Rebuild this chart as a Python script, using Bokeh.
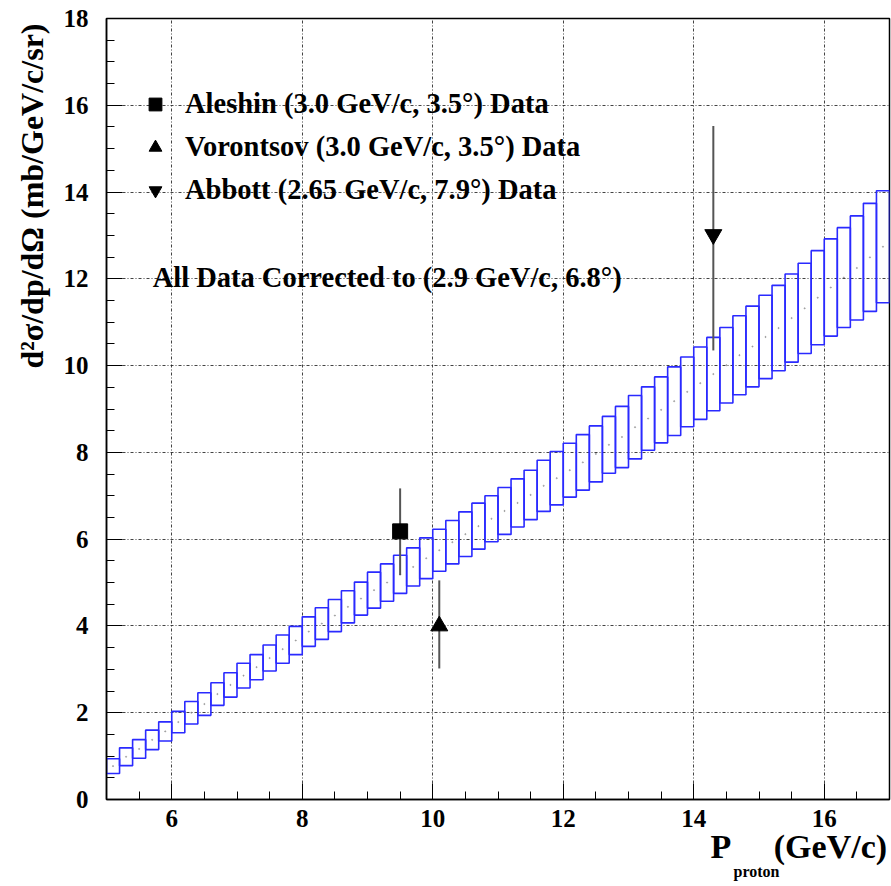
import numpy as np
from bokeh.plotting import figure
from bokeh.models import (FixedTicker, Label, Legend, LegendItem, ColumnDataSource, Title)
from bokeh.embed import file_html
from bokeh.resources import INLINE

# ---------------- data ----------------
bin_left = [5.0, 5.2, 5.4, 5.6, 5.8, 6.0, 6.2, 6.4, 6.6, 6.8,
            7.0, 7.2, 7.4, 7.6, 7.8, 8.0, 8.2, 8.4, 8.6, 8.8,
            9.0, 9.2, 9.4, 9.6, 9.8, 10.0, 10.2, 10.4, 10.6, 10.8,
            11.0, 11.2, 11.4, 11.6, 11.8, 12.0, 12.2, 12.4, 12.6, 12.8,
            13.0, 13.2, 13.4, 13.6, 13.8, 14.0, 14.2, 14.4, 14.6, 14.8,
            15.0, 15.2, 15.4, 15.6, 15.8, 16.0, 16.2, 16.4, 16.6, 16.8]
bin_width = 0.2
band_low = [0.60, 0.78, 0.95, 1.15, 1.35, 1.54, 1.74, 1.94, 2.17, 2.36,
            2.57, 2.76, 2.96, 3.14, 3.34, 3.53, 3.69, 3.87, 4.07, 4.25,
            4.41, 4.57, 4.75, 4.92, 5.09, 5.26, 5.43, 5.60, 5.77, 5.94,
            6.11, 6.28, 6.45, 6.64, 6.79, 6.97, 7.13, 7.32, 7.52, 7.65,
            7.85, 8.05, 8.22, 8.39, 8.59, 8.76, 8.96, 9.14, 9.33, 9.51,
            9.70, 9.88, 10.08, 10.28, 10.48, 10.68, 10.88, 11.05, 11.25, 11.45]
band_high = [0.94, 1.19, 1.38, 1.60, 1.79, 2.03, 2.26, 2.46, 2.69, 2.92,
             3.14, 3.34, 3.56, 3.79, 3.99, 4.21, 4.42, 4.61, 4.81, 5.01,
             5.24, 5.43, 5.63, 5.80, 6.03, 6.23, 6.43, 6.63, 6.83, 7.00,
             7.19, 7.39, 7.59, 7.82, 8.02, 8.21, 8.41, 8.61, 8.83, 9.06,
             9.31, 9.51, 9.74, 9.97, 10.20, 10.43, 10.65, 10.88, 11.15, 11.37,
             11.62, 11.85, 12.11, 12.36, 12.65, 12.92, 13.18, 13.45, 13.74, 14.03]

aleshin_x, aleshin_y, aleshin_lo, aleshin_hi = [9.5], [6.18], [5.17], [7.17]
voron_x, voron_y, voron_lo, voron_hi = [10.1], [4.0], [3.02], [5.05]
abbott_x, abbott_y, abbott_lo, abbott_hi = [14.3], [13.02], [10.35], [15.52]

x_major = [6, 8, 10, 12, 14, 16]
x_minor = [5.5, 6.5, 7, 7.5, 8.5, 9, 9.5, 10.5, 11, 11.5, 12.5, 13, 13.5,
           14.5, 15, 15.5, 16.5]
y_major = [0, 2, 4, 6, 8, 10, 12, 14, 16, 18]
y_minor = [0.5, 1, 1.5, 2.5, 3, 3.5, 4.5, 5, 5.5, 6.5, 7, 7.5, 8.5, 9, 9.5,
           10.5, 11, 11.5, 12.5, 13, 13.5, 14.5, 15, 15.5, 16.5, 17, 17.5]

legend_labels = ["Aleshin (3.0 GeV/c, 3.5°) Data",
                 "Vorontsov (3.0 GeV/c, 3.5°) Data",
                 "Abbott (2.65 GeV/c, 7.9°) Data"]
note_text = "All Data Corrected to (2.9 GeV/c, 6.8°)"
y_title = "d²σ/dp/dΩ (mb/GeV/c/sr)"
x_title_main = "P\u00a0\u00a0\u00a0\u00a0\u00a0(GeV/c)"
x_title_sub = "proton"

FONT = "Liberation Serif"

# ---------------- figure ----------------
p = figure(width=891, height=886, x_range=(5, 17), y_range=(0, 18),
           output_backend="svg", toolbar_location=None,
           min_border_left=106, min_border_right=2,
           min_border_top=18, min_border_bottom=87)
p.background_fill_color = "white"
p.border_fill_color = "white"
p.outline_line_color = "black"
p.outline_line_width = 1.5

# axes
for ax in (p.xaxis[0], p.yaxis[0]):
    ax.major_tick_in = 16
    ax.major_tick_out = 0
    ax.minor_tick_in = 8
    ax.minor_tick_out = 0
    ax.major_tick_line_color = "black"
    ax.minor_tick_line_color = "black"
    ax.axis_line_color = "black"
    ax.axis_line_width = 1.5
    ax.major_label_text_font = FONT
    ax.major_label_text_font_style = "bold"
    ax.major_label_text_font_size = "25px"
    ax.major_label_text_color = "black"

p.xaxis[0].ticker = FixedTicker(ticks=x_major, minor_ticks=x_minor)
p.yaxis[0].ticker = FixedTicker(ticks=y_major, minor_ticks=y_minor)
p.xaxis[0].major_label_standoff = 10
p.yaxis[0].major_label_standoff = 18

# grids
for g in (p.xgrid[0], p.ygrid[0]):
    g.grid_line_color = "#222222"
    g.grid_line_dash = "3 2 1 2"
    g.grid_line_width = 1
    g.grid_line_alpha = 0.85
p.xgrid[0].ticker = FixedTicker(ticks=x_major)
p.ygrid[0].ticker = FixedTicker(ticks=y_major)

# axis titles (as Titles in side panels)
p.add_layout(Title(text=x_title_main, align="left", offset=604, standoff=-8,
                   text_font=FONT, text_font_style="bold", text_font_size="34px",
                   text_color="black"), "below")
p.add_layout(Title(text=x_title_sub, align="left", offset=627, standoff=0,
                   text_font=FONT, text_font_style="bold", text_font_size="16px",
                   text_color="black"), "below")
p.add_layout(Title(text=y_title, align="right", offset=5, standoff=21,
                   text_font=FONT, text_font_style="bold", text_font_size="32px",
                   text_color="black"), "left")

# ---------------- band ----------------
left = np.array(bin_left)
right = left + bin_width
lo = np.array(band_low)
hi = np.array(band_high)
src = ColumnDataSource(dict(left=left, right=right, bottom=lo, top=hi,
                            xc=(left + right) / 2, yc=(lo + hi) / 2))
p.quad(left="left", right="right", bottom="bottom", top="top", source=src,
       fill_alpha=0, line_color="#2a2aff", line_width=1.6)
p.scatter(x="xc", y="yc", source=src, size=1.2, color="#777777", alpha=0.5, marker="circle")

# ---------------- data points ----------------
errc = "#555555"
p.segment(x0=aleshin_x, x1=aleshin_x, y0=aleshin_lo, y1=aleshin_hi, line_color=errc, line_width=2)
p.segment(x0=voron_x, x1=voron_x, y0=voron_lo, y1=voron_hi, line_color=errc, line_width=2)
p.segment(x0=abbott_x, x1=abbott_x, y0=abbott_lo, y1=abbott_hi, line_color=errc, line_width=2)

r1 = p.scatter(x=aleshin_x, y=aleshin_y, marker="square", size=15, color="black")
r2 = p.scatter(x=voron_x, y=voron_y, marker="triangle", size=17, color="black")
r3 = p.scatter(x=abbott_x, y=abbott_y, marker="inverted_triangle", size=17, color="black")

legend = Legend(items=[LegendItem(label=legend_labels[0], renderers=[r1]),
                       LegendItem(label=legend_labels[1], renderers=[r2]),
                       LegendItem(label=legend_labels[2], renderers=[r3])],
                location=(29, 589), orientation="vertical",
                glyph_width=32, glyph_height=32, label_height=32,
                spacing=11, padding=4, margin=0, label_standoff=14,
                label_text_font=FONT, label_text_font_style="bold",
                label_text_font_size="28.5px", label_text_color="black",
                background_fill_alpha=0, border_line_alpha=0,
                click_policy="none")
p.add_layout(legend)

p.add_layout(Label(x=5.707, y=12.04, text=note_text, text_font=FONT,
                   text_font_style="bold", text_font_size="28.5px",
                   text_baseline="middle", text_align="left", text_color="black"))

open("out.html", "w").write(file_html(p, INLINE))
